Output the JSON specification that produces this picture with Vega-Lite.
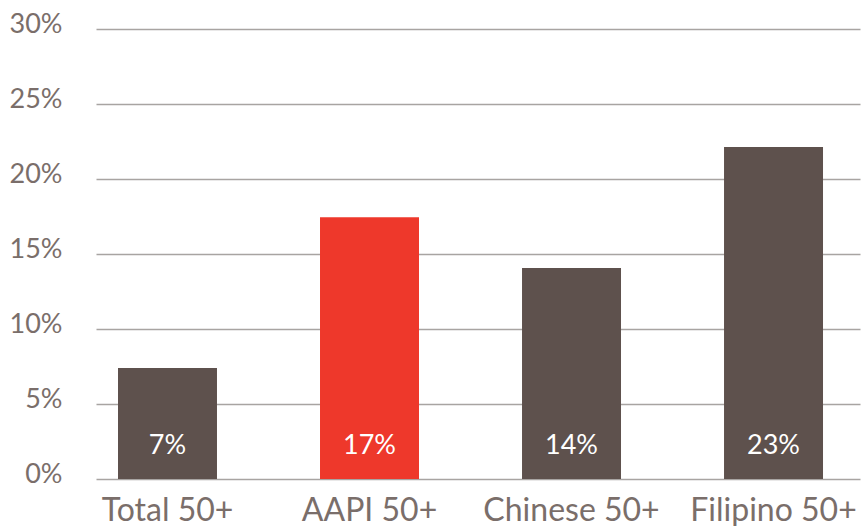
{
  "$schema": "https://vega.github.io/schema/vega-lite/v6.json",
  "width": 764,
  "height": 450,
  "autosize": {"type": "none"},
  "padding": {"left": 96, "top": 29, "right": 4, "bottom": 47},
  "background": "white",
  "data": {
    "values": [
      {"group": "Total 50+", "value": 7.4, "label": "7%", "highlight": "no"},
      {"group": "AAPI 50+", "value": 17.45, "label": "17%", "highlight": "yes"},
      {"group": "Chinese 50+", "value": 14.07, "label": "14%", "highlight": "no"},
      {"group": "Filipino 50+", "value": 22.13, "label": "23%", "highlight": "no"}
    ]
  },
  "config": {
    "view": {"stroke": null},
    "font": "Lato"
  },
  "encoding": {
    "x": {
      "field": "group",
      "type": "nominal",
      "sort": null,
      "scale": {"paddingInner": 0.51, "paddingOuter": 0.146, "align": 0.373},
      "axis": {
        "title": null,
        "labelAngle": 0,
        "labelFontSize": 32,
        "labelColor": "#7a6e6a",
        "labelPadding": 16,
        "ticks": false,
        "domain": false,
        "labelFont": "Lato"
      }
    }
  },
  "layer": [
    {
      "mark": {"type": "bar"},
      "encoding": {
        "y": {
          "field": "value",
          "type": "quantitative",
          "scale": {"domain": [0, 30], "nice": false},
          "axis": {
            "title": null,
            "values": [0, 5, 10, 15, 20, 25, 30],
            "labelExpr": "datum.value + '%'",
            "labelFontSize": 27,
            "labelColor": "#7a6e6a",
            "labelPadding": 34,
            "labelBaseline": "alphabetic",
            "labelOffset": 3,
            "ticks": false,
            "domain": false,
            "grid": true,
            "gridColor": "#a8a4a2",
            "gridWidth": 1.5
          }
        },
        "color": {
          "field": "highlight",
          "type": "nominal",
          "scale": {"domain": ["no", "yes"], "range": ["#5e514d", "#ee382b"]},
          "legend": null
        }
      }
    },
    {
      "mark": {"type": "text", "color": "white", "fontSize": 27, "baseline": "alphabetic", "dy": -25},
      "encoding": {
        "y": {"datum": 0, "type": "quantitative"},
        "text": {"field": "label"}
      }
    }
  ]
}
